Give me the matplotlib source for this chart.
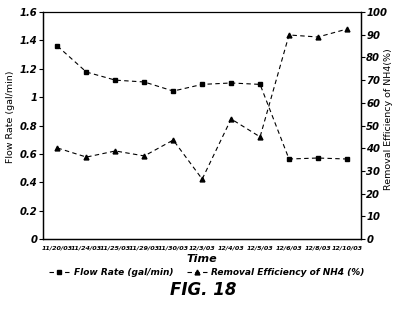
import matplotlib.pyplot as plt
import numpy as np

# data
dates = ['11/20/03', '11/24/03', '11/25/03', '11/29/03', '11/30/03', '12/3/03',
         '12/4/03', '12/5/03', '12/6/03', '12/8/03', '12/10/03']
flow_rate = [1.36, 1.177, 1.12, 1.107, 1.043, 1.09, 1.10, 1.09, 0.564, 0.571, 0.564]
removal_eff = [40.1, 36.1, 38.8, 36.6, 43.6, 26.4, 52.9, 45.0, 89.9, 89.0, 92.5]

fig = plt.figure(figsize=(3.98, 3.17), dpi=100)
ax = fig.add_axes([0.108, 0.246, 0.800, 0.716])
ax2 = ax.twinx()

x = np.arange(len(dates))
l1, = ax.plot(x, flow_rate, color='black', linestyle=(0, (4, 3)), linewidth=0.8,
              marker='s', markersize=2.5, label='Flow Rate (gal/min)')
l2, = ax2.plot(x, removal_eff, color='black', linestyle=(0, (4, 3)), linewidth=0.8,
               marker='^', markersize=3.5, label='Removal Efficiency of NH4 (%)')

ax.set_xlim(-0.5, 10.5)
ax.set_ylim(0, 1.6)
ax2.set_ylim(0, 100)
ax.set_yticks([0, 0.2, 0.4, 0.6, 0.8, 1.0, 1.2, 1.4, 1.6])
ax.set_yticklabels(['0', '0.2', '0.4', '0.6', '0.8', '1', '1.2', '1.4', '1.6'],
                   fontsize=7.2, fontweight='bold', fontstyle='italic')
ax2.set_yticks(range(0, 101, 10))
ax2.set_yticklabels([str(v) for v in range(0, 101, 10)],
                    fontsize=7.2, fontweight='bold', fontstyle='italic')
ax.set_xticks(x)
ax.set_xticklabels(dates, fontsize=4.6, fontweight='bold', fontstyle='italic')
ax.tick_params(axis='x', length=0, pad=5)
ax.tick_params(axis='y', length=3, width=0.8, pad=1)
ax2.tick_params(axis='y', length=3, width=0.8, pad=0.5)

for a in (ax, ax2):
    for s in a.spines.values():
        s.set_linewidth(0.9)
ax.spines['top'].set_linewidth(0.6)

ax.set_ylabel('Flow Rate (gal/min)', fontsize=6.8)
ax.yaxis.set_label_coords(-0.088, 0.54)
ax2.set_ylabel('Removal Efficiency of NH4(%)', fontsize=6.8)
ax2.yaxis.set_label_coords(1.07, 0.53)
ax.set_xlabel('Time', fontsize=8, fontweight='bold', fontstyle='italic', labelpad=2)

fig.legend(handles=[l1, l2], loc='center', bbox_to_anchor=(0.52, 0.14), ncol=2,
           frameon=False, prop={'size': 6.5, 'weight': 'bold', 'style': 'italic'},
           handlelength=2.2, columnspacing=1.5, handletextpad=0.5)

fig.text(0.51, 0.085, 'FIG. 18', fontsize=12, fontweight='bold', fontstyle='italic',
         ha='center', va='center')

fig.savefig('out.png', dpi=100)
